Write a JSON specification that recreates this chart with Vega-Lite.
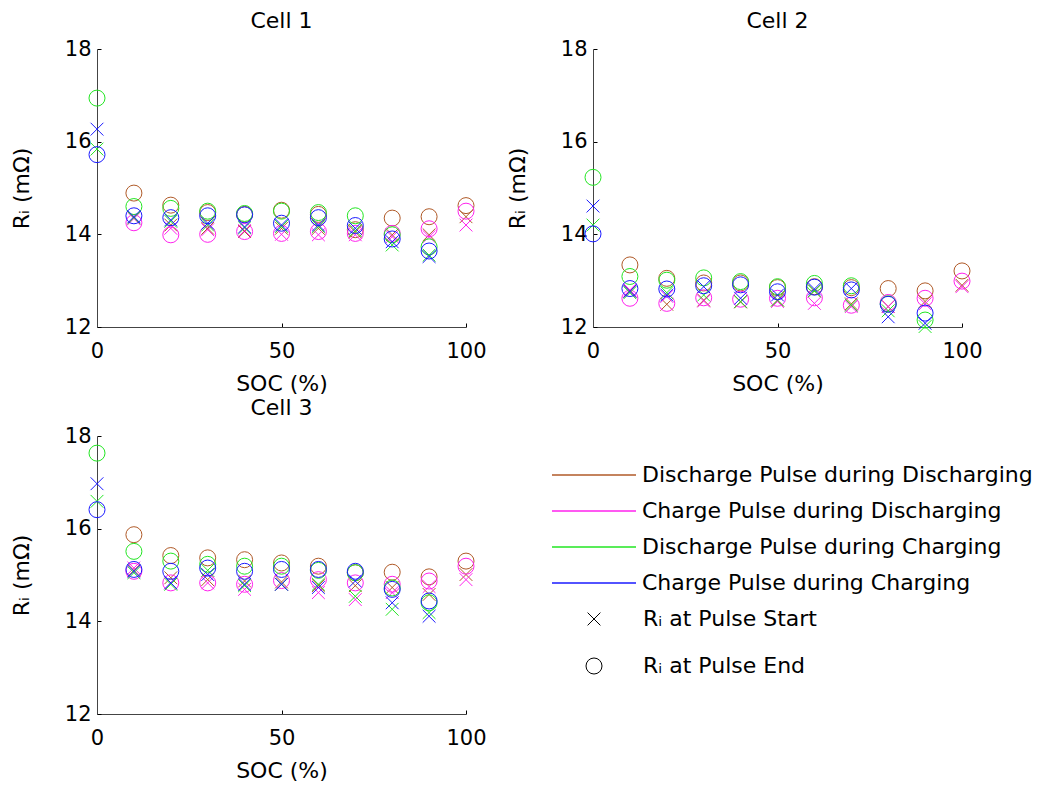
{
  "$schema": "https://vega.github.io/schema/vega-lite/v6.json",
  "padding": {"left": 10, "top": 10, "right": 5, "bottom": 5},
  "background": "white",
  "datasets": {
    "ri": [
      {"cell":1,"series":"DD","soc":10,"start":14.36,"end":14.89},
      {"cell":1,"series":"DD","soc":20,"start":14.20,"end":14.63},
      {"cell":1,"series":"DD","soc":30,"start":14.13,"end":14.47},
      {"cell":1,"series":"DD","soc":40,"start":14.06,"end":14.43},
      {"cell":1,"series":"DD","soc":50,"start":14.13,"end":14.52},
      {"cell":1,"series":"DD","soc":60,"start":14.13,"end":14.43},
      {"cell":1,"series":"DD","soc":70,"start":14.05,"end":14.10},
      {"cell":1,"series":"DD","soc":80,"start":13.99,"end":14.35},
      {"cell":1,"series":"DD","soc":90,"start":13.99,"end":14.38},
      {"cell":1,"series":"DD","soc":100,"start":14.38,"end":14.62},
      {"cell":1,"series":"CD","soc":10,"start":14.34,"end":14.25},
      {"cell":1,"series":"CD","soc":20,"start":14.13,"end":13.99},
      {"cell":1,"series":"CD","soc":30,"start":14.10,"end":14.00},
      {"cell":1,"series":"CD","soc":40,"start":14.08,"end":14.06},
      {"cell":1,"series":"CD","soc":50,"start":14.00,"end":14.02},
      {"cell":1,"series":"CD","soc":60,"start":13.99,"end":14.06},
      {"cell":1,"series":"CD","soc":70,"start":13.99,"end":14.02},
      {"cell":1,"series":"CD","soc":80,"start":13.95,"end":14.02},
      {"cell":1,"series":"CD","soc":90,"start":13.95,"end":14.12},
      {"cell":1,"series":"CD","soc":100,"start":14.20,"end":14.50},
      {"cell":1,"series":"DC","soc":0,"start":15.84,"end":16.94},
      {"cell":1,"series":"DC","soc":10,"start":14.36,"end":14.60},
      {"cell":1,"series":"DC","soc":20,"start":14.28,"end":14.56},
      {"cell":1,"series":"DC","soc":30,"start":14.20,"end":14.50},
      {"cell":1,"series":"DC","soc":40,"start":14.14,"end":14.45},
      {"cell":1,"series":"DC","soc":50,"start":14.17,"end":14.50},
      {"cell":1,"series":"DC","soc":60,"start":14.17,"end":14.47},
      {"cell":1,"series":"DC","soc":70,"start":14.08,"end":14.40},
      {"cell":1,"series":"DC","soc":80,"start":13.77,"end":13.99},
      {"cell":1,"series":"DC","soc":90,"start":13.55,"end":13.73},
      {"cell":1,"series":"CC","soc":0,"start":16.27,"end":15.72},
      {"cell":1,"series":"CC","soc":10,"start":14.38,"end":14.40},
      {"cell":1,"series":"CC","soc":20,"start":14.31,"end":14.36},
      {"cell":1,"series":"CC","soc":30,"start":14.24,"end":14.40},
      {"cell":1,"series":"CC","soc":40,"start":14.16,"end":14.42},
      {"cell":1,"series":"CC","soc":50,"start":14.20,"end":14.24},
      {"cell":1,"series":"CC","soc":60,"start":14.20,"end":14.36},
      {"cell":1,"series":"CC","soc":70,"start":14.13,"end":14.19},
      {"cell":1,"series":"CC","soc":80,"start":13.84,"end":13.90},
      {"cell":1,"series":"CC","soc":90,"start":13.52,"end":13.64},

      {"cell":2,"series":"DD","soc":10,"start":12.77,"end":13.34},
      {"cell":2,"series":"DD","soc":20,"start":12.49,"end":13.05},
      {"cell":2,"series":"DD","soc":30,"start":12.58,"end":12.95},
      {"cell":2,"series":"DD","soc":40,"start":12.54,"end":12.95},
      {"cell":2,"series":"DD","soc":50,"start":12.58,"end":12.85},
      {"cell":2,"series":"DD","soc":60,"start":12.78,"end":12.87},
      {"cell":2,"series":"DD","soc":70,"start":12.50,"end":12.85},
      {"cell":2,"series":"DD","soc":80,"start":12.44,"end":12.83},
      {"cell":2,"series":"DD","soc":90,"start":12.55,"end":12.78},
      {"cell":2,"series":"DD","soc":100,"start":12.90,"end":13.21},
      {"cell":2,"series":"CD","soc":10,"start":12.80,"end":12.62},
      {"cell":2,"series":"CD","soc":20,"start":12.66,"end":12.51},
      {"cell":2,"series":"CD","soc":30,"start":12.56,"end":12.63},
      {"cell":2,"series":"CD","soc":40,"start":12.55,"end":12.60},
      {"cell":2,"series":"CD","soc":50,"start":12.55,"end":12.62},
      {"cell":2,"series":"CD","soc":60,"start":12.51,"end":12.63},
      {"cell":2,"series":"CD","soc":70,"start":12.44,"end":12.47},
      {"cell":2,"series":"CD","soc":80,"start":12.44,"end":12.53},
      {"cell":2,"series":"CD","soc":90,"start":12.50,"end":12.62},
      {"cell":2,"series":"CD","soc":100,"start":12.87,"end":12.99},
      {"cell":2,"series":"DC","soc":0,"start":14.20,"end":15.23},
      {"cell":2,"series":"DC","soc":10,"start":12.74,"end":13.09},
      {"cell":2,"series":"DC","soc":20,"start":12.74,"end":13.01},
      {"cell":2,"series":"DC","soc":30,"start":12.69,"end":13.06},
      {"cell":2,"series":"DC","soc":40,"start":12.55,"end":12.98},
      {"cell":2,"series":"DC","soc":50,"start":12.58,"end":12.87},
      {"cell":2,"series":"DC","soc":60,"start":12.78,"end":12.94},
      {"cell":2,"series":"DC","soc":70,"start":12.47,"end":12.89},
      {"cell":2,"series":"DC","soc":80,"start":12.35,"end":12.50},
      {"cell":2,"series":"DC","soc":90,"start":12.01,"end":12.15},
      {"cell":2,"series":"CC","soc":0,"start":14.61,"end":14.01},
      {"cell":2,"series":"CC","soc":10,"start":12.77,"end":12.83},
      {"cell":2,"series":"CC","soc":20,"start":12.69,"end":12.82},
      {"cell":2,"series":"CC","soc":30,"start":12.87,"end":12.89},
      {"cell":2,"series":"CC","soc":40,"start":12.62,"end":12.91},
      {"cell":2,"series":"CC","soc":50,"start":12.69,"end":12.76},
      {"cell":2,"series":"CC","soc":60,"start":12.82,"end":12.86},
      {"cell":2,"series":"CC","soc":70,"start":12.83,"end":12.80},
      {"cell":2,"series":"CC","soc":80,"start":12.22,"end":12.49},
      {"cell":2,"series":"CC","soc":90,"start":12.08,"end":12.30},

      {"cell":3,"series":"DD","soc":10,"start":15.10,"end":15.87},
      {"cell":3,"series":"DD","soc":20,"start":14.94,"end":15.42},
      {"cell":3,"series":"DD","soc":30,"start":14.90,"end":15.37},
      {"cell":3,"series":"DD","soc":40,"start":14.87,"end":15.33},
      {"cell":3,"series":"DD","soc":50,"start":14.85,"end":15.26},
      {"cell":3,"series":"DD","soc":60,"start":14.77,"end":15.19},
      {"cell":3,"series":"DD","soc":70,"start":14.77,"end":15.05},
      {"cell":3,"series":"DD","soc":80,"start":14.73,"end":15.06},
      {"cell":3,"series":"DD","soc":90,"start":14.58,"end":14.96},
      {"cell":3,"series":"DD","soc":100,"start":15.01,"end":15.30},
      {"cell":3,"series":"CD","soc":10,"start":15.15,"end":15.08},
      {"cell":3,"series":"CD","soc":20,"start":14.83,"end":14.83},
      {"cell":3,"series":"CD","soc":30,"start":14.83,"end":14.83},
      {"cell":3,"series":"CD","soc":40,"start":14.69,"end":14.80},
      {"cell":3,"series":"CD","soc":50,"start":14.80,"end":14.88},
      {"cell":3,"series":"CD","soc":60,"start":14.62,"end":14.90},
      {"cell":3,"series":"CD","soc":70,"start":14.47,"end":14.83},
      {"cell":3,"series":"CD","soc":80,"start":14.62,"end":14.80},
      {"cell":3,"series":"CD","soc":90,"start":14.75,"end":14.87},
      {"cell":3,"series":"CD","soc":100,"start":14.90,"end":15.19},
      {"cell":3,"series":"DC","soc":0,"start":16.59,"end":17.63},
      {"cell":3,"series":"DC","soc":10,"start":15.05,"end":15.51},
      {"cell":3,"series":"DC","soc":20,"start":14.80,"end":15.30},
      {"cell":3,"series":"DC","soc":30,"start":15.10,"end":15.23},
      {"cell":3,"series":"DC","soc":40,"start":14.77,"end":15.19},
      {"cell":3,"series":"DC","soc":50,"start":14.80,"end":15.19},
      {"cell":3,"series":"DC","soc":60,"start":14.80,"end":15.10},
      {"cell":3,"series":"DC","soc":70,"start":14.54,"end":15.05},
      {"cell":3,"series":"DC","soc":80,"start":14.26,"end":14.72},
      {"cell":3,"series":"DC","soc":90,"start":14.19,"end":14.40},
      {"cell":3,"series":"CC","soc":0,"start":16.97,"end":16.41},
      {"cell":3,"series":"CC","soc":10,"start":15.08,"end":15.12},
      {"cell":3,"series":"CC","soc":20,"start":14.83,"end":15.08},
      {"cell":3,"series":"CC","soc":30,"start":15.01,"end":15.15},
      {"cell":3,"series":"CC","soc":40,"start":14.80,"end":15.08},
      {"cell":3,"series":"CC","soc":50,"start":14.80,"end":15.12},
      {"cell":3,"series":"CC","soc":60,"start":14.73,"end":15.12},
      {"cell":3,"series":"CC","soc":70,"start":14.87,"end":15.08},
      {"cell":3,"series":"CC","soc":80,"start":14.40,"end":14.69},
      {"cell":3,"series":"CC","soc":90,"start":14.11,"end":14.44}
    ]
  },
  "columns": 2,
  "bounds": "flush",
  "spacing": {"row": 109, "column": 127},
  "resolve": {"legend": {"color": "independent", "shape": "independent"}},
  "concat": [
    {
      "width": 369, "height": 278,
      "title": "Cell 1",
      "data": {"name": "ri"},
      "transform": [{"filter": "datum.cell == 1"}, {"fold": ["start", "end"], "as": ["marker", "r"]}],
      "mark": {"type": "point", "filled": false, "size": 256, "strokeWidth": 1, "opacity": 1},
      "encoding": {
        "x": {"field": "soc", "type": "quantitative", "scale": {"domain": [0, 100], "nice": false}, "axis": {"title": "SOC (%)", "values": [0, 50, 100]}},
        "y": {"field": "r", "type": "quantitative", "scale": {"domain": [12, 18], "nice": false, "zero": false}, "axis": {"title": "Rᵢ  (mΩ)", "values": [12, 14, 16, 18]}},
        "color": {"field": "series", "type": "nominal", "scale": {"domain": ["DD", "CD", "DC", "CC"], "range": ["#B05A28", "#FF22EE", "#22E622", "#1A1AFF"]}, "legend": null},
        "shape": {"field": "marker", "type": "nominal", "scale": {"domain": ["start", "end"], "range": ["M-0.8,-0.8L0.8,0.8M0.8,-0.8L-0.8,0.8", "circle"]}, "legend": null}
      }
    },
    {
      "width": 369, "height": 278,
      "title": "Cell 2",
      "data": {"name": "ri"},
      "transform": [{"filter": "datum.cell == 2"}, {"fold": ["start", "end"], "as": ["marker", "r"]}],
      "mark": {"type": "point", "filled": false, "size": 256, "strokeWidth": 1, "opacity": 1},
      "encoding": {
        "x": {"field": "soc", "type": "quantitative", "scale": {"domain": [0, 100], "nice": false}, "axis": {"title": "SOC (%)", "values": [0, 50, 100]}},
        "y": {"field": "r", "type": "quantitative", "scale": {"domain": [12, 18], "nice": false, "zero": false}, "axis": {"title": "Rᵢ  (mΩ)", "values": [12, 14, 16, 18]}},
        "color": {"field": "series", "type": "nominal", "scale": {"domain": ["DD", "CD", "DC", "CC"], "range": ["#B05A28", "#FF22EE", "#22E622", "#1A1AFF"]}, "legend": null},
        "shape": {"field": "marker", "type": "nominal", "scale": {"domain": ["start", "end"], "range": ["M-0.8,-0.8L0.8,0.8M0.8,-0.8L-0.8,0.8", "circle"]}, "legend": null}
      }
    },
    {
      "width": 369, "height": 278,
      "title": "Cell 3",
      "data": {"name": "ri"},
      "transform": [{"filter": "datum.cell == 3"}, {"fold": ["start", "end"], "as": ["marker", "r"]}],
      "mark": {"type": "point", "filled": false, "size": 256, "strokeWidth": 1, "opacity": 1},
      "encoding": {
        "x": {"field": "soc", "type": "quantitative", "scale": {"domain": [0, 100], "nice": false}, "axis": {"title": "SOC (%)", "values": [0, 50, 100]}},
        "y": {"field": "r", "type": "quantitative", "scale": {"domain": [12, 18], "nice": false, "zero": false}, "axis": {"title": "Rᵢ  (mΩ)", "values": [12, 14, 16, 18]}},
        "color": {"field": "series", "type": "nominal", "scale": {"domain": ["DD", "CD", "DC", "CC"], "range": ["#B05A28", "#FF22EE", "#22E622", "#1A1AFF"]},
          "legend": {"orient": "none", "legendX": 518, "legendY": 28, "title": null, "symbolType": "M-7.4,0H1", "symbolSize": 400, "symbolStrokeWidth": 1.5, "symbolFillColor": "transparent", "labelFontSize": 22, "labelOffset": 5, "rowPadding": 14, "labelLimit": 600,
            "labelExpr": "datum.value == 'DD' ? 'Discharge Pulse during Discharging' : datum.value == 'CD' ? 'Charge Pulse during Discharging' : datum.value == 'DC' ? 'Discharge Pulse during Charging' : 'Charge Pulse during Charging'"}},
        "shape": {"field": "marker", "type": "nominal", "scale": {"domain": ["start", "end"], "range": ["M-0.8,-0.8L0.8,0.8M0.8,-0.8L-0.8,0.8", "circle"]},
          "legend": {"orient": "none", "legendX": 486, "legendY": 172, "title": null, "symbolSize": 256, "symbolStrokeColor": "#000", "symbolFillColor": "transparent", "symbolStrokeWidth": 1, "labelFontSize": 22, "labelOffset": 38, "rowPadding": 25, "labelLimit": 600,
            "labelExpr": "datum.value == 'start' ? 'Rᵢ at Pulse Start' : 'Rᵢ at Pulse End'"}}
      }
    }
  ],
  "config": {
    "font": "DejaVu Sans",
    "view": {"stroke": null},
    "title": {"fontSize": 22, "fontWeight": "normal", "color": "#000", "offset": 5},
    "axis": {
      "grid": false,
      "domainColor": "#444",
      "tickColor": "#000",
      "tickSize": -4,
      "labelFontSize": 21,
      "labelColor": "#000",
      "labelPadding": 10,
      "labelFlush": false,
      "titleFontSize": 22,
      "titleFontWeight": "normal",
      "titleColor": "#000"
    },
    "axisY": {"titlePadding": 31},
    "axisX": {"titlePadding": 12, "labelPadding": 17},
    "legend": {"labelColor": "#000", "labelFont": "DejaVu Sans"}
  }
}
